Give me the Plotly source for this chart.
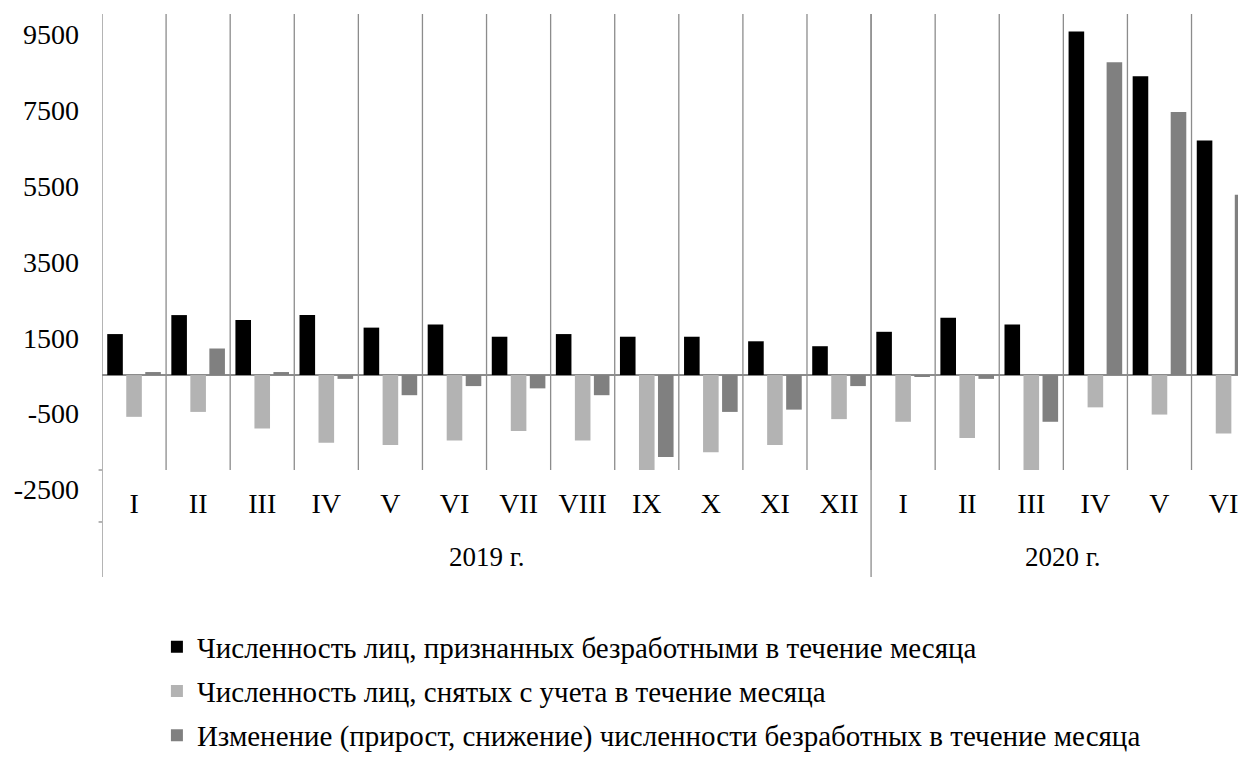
import plotly.graph_objects as go

months = ["I", "II", "III", "IV", "V", "VI", "VII", "VIII", "IX", "X", "XI", "XII",
          "I", "II", "III", "IV", "V", "VI"]
years = ["2019 г.", "2020 г."]
year_sizes = [12, 6]

recognized = [1080, 1580, 1450, 1580, 1250, 1330, 1010, 1080, 1010, 1010, 890, 760,
              1140, 1510, 1330, 9050, 7870, 6180]
removed = [-1100, -970, -1410, -1780, -1840, -1720, -1470, -1720, -2600, -2030, -1840, -1160,
           -1230, -1660, -2600, -850, -1040, -1540]
change = [80, 700, 80, -100, -530, -290, -350, -530, -2160, -970, -910, -290,
          -30, -100, -1230, 8240, 6930, 4750]

names = ["Численность лиц, признанных безработными в течение месяца",
         "Численность лиц, снятых с учета в течение месяца",
         "Изменение (прирост, снижение) численности безработных в течение месяца"]
colors = ["#000000", "#b3b3b3", "#808080"]

y_ticks = [-2500, -500, 1500, 3500, 5500, 7500, 9500]
y_ticktext = ["-2500", "-500", "1500", "3500", "5500", "7500", "9500"]

FONT = "Liberation Serif"
GRID = "#8c8c8c"

x = list(range(len(months)))
fig = go.Figure()
for i, (vals, nm, col) in enumerate(zip([recognized, removed, change], names, colors)):
    fig.add_trace(go.Bar(x=x, y=vals, name=nm, marker=dict(color=col, line=dict(width=0)),
                         legendgroup=f"g{i}"))

shapes = []
for k in range(1, len(months)):
    shapes.append(dict(type="line", xref="x", yref="paper", x0=k - 0.5, x1=k - 0.5,
                       y0=0, y1=1, line=dict(color=GRID, width=1.3), layer="below"))
bounds = [0]
for s in year_sizes:
    bounds.append(bounds[-1] + s)
for b in bounds[:-1]:
    shapes.append(dict(type="line", xref="x", yref="paper", x0=b - 0.5, x1=b - 0.5,
                       y0=-0.2344, y1=1, line=dict(color=GRID, width=1.3)))
for yy in [0, -0.114]:
    shapes.append(dict(type="line", xref="paper", yref="paper", x0=-0.003, x1=0,
                       y0=yy, y1=yy, line=dict(color=GRID, width=1.3)))

annotations = []
for i, yr in enumerate(years):
    center = (bounds[i] + bounds[i + 1] - 1) / 2
    annotations.append(dict(text=yr, x=center, xref="x", y=-0.1906, yref="paper",
                            showarrow=False, yanchor="middle",
                            font=dict(family=FONT, size=27, color="#000")))

fig.update_layout(
    width=1238, height=755,
    margin=dict(l=94, r=0, t=5.5, b=293, autoexpand=False),
    paper_bgcolor="white", plot_bgcolor="white",
    barmode="group", bargap=0.11, bargroupgap=0.18,
    font=dict(family=FONT, size=27, color="#000"),
    xaxis=dict(range=[-0.5, 17.35], tickvals=x, ticktext=months, showgrid=False,
               zeroline=False, showline=False, ticks="", ticklabelstandoff=14,
               automargin=False, ticklabeloverflow="allow",
               tickfont=dict(family=FONT, size=28)),
    yaxis=dict(range=[-2500, 9510], tickvals=y_ticks, ticktext=y_ticktext, showgrid=False,
               zeroline=True, zerolinecolor=GRID, zerolinewidth=1.5, showline=False,
               ticks="", ticklabelstandoff=22, automargin=False,
               ticklabeloverflow="allow", ticklabelposition="outside bottom",
               tickfont=dict(family=FONT, size=28)),
    showlegend=True,
    legend=dict(x=0.048, xanchor="left", y=-0.332, yanchor="top", orientation="v",
                font=dict(family=FONT, size=29), tracegroupgap=3.5,
                bgcolor="rgba(0,0,0,0)"),
    shapes=shapes, annotations=annotations,
)

fig.write_html("out.html")
